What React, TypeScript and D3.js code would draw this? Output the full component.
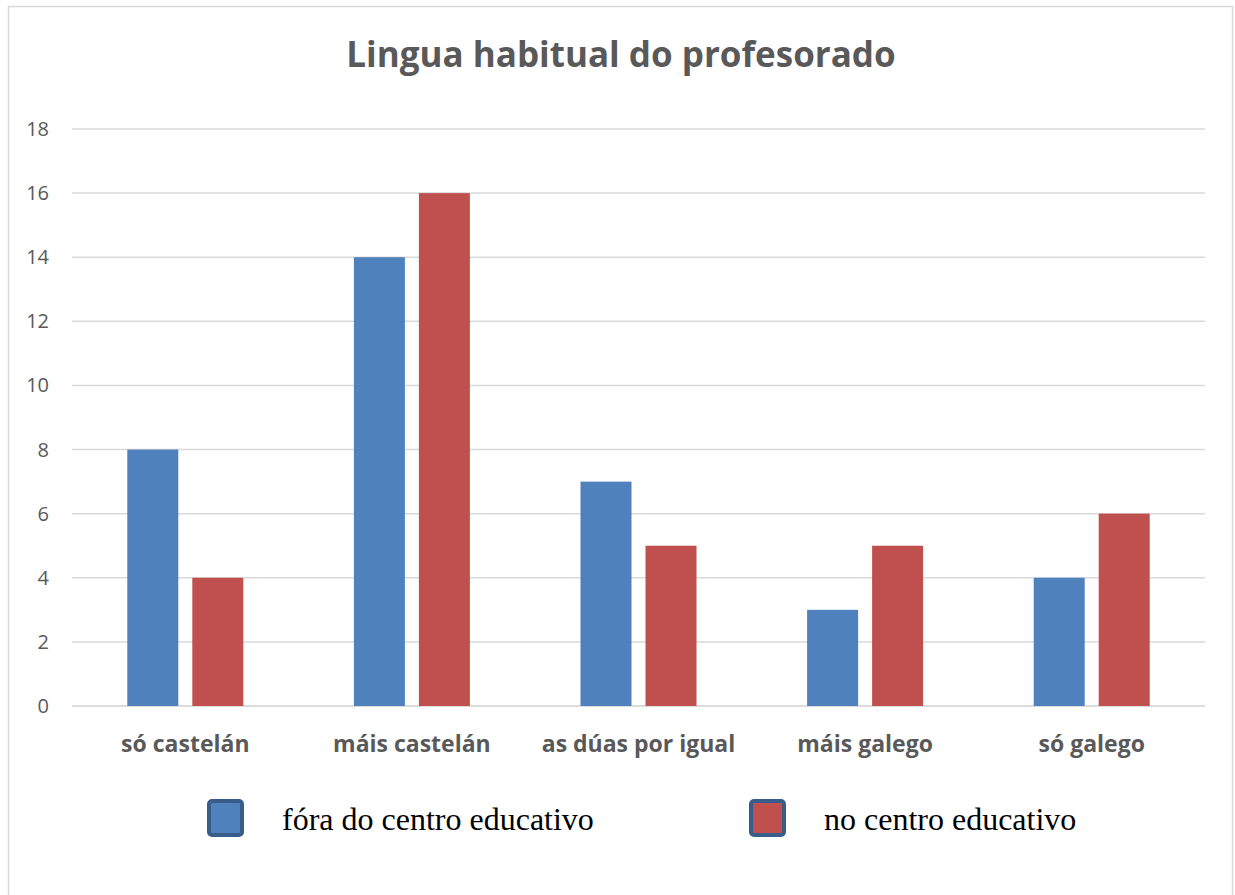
import React, { useEffect, useRef } from "react";
import * as d3 from "d3";

const categories = ["só castelán", "máis castelán", "as dúas por igual", "máis galego", "só galego"];
const seriesNames = ["fóra do centro educativo", "no centro educativo"];
const foraValues = [8, 14, 7, 3, 4];
const noCentroValues = [4, 16, 5, 5, 6];
const yTicks = [0, 2, 4, 6, 8, 10, 12, 14, 16, 18];
const colors = ["#4f81bd", "#c0504d"];

const W = 1235, H = 895;

export default function App() {
  const svgRef = useRef<SVGSVGElement>(null);

  useEffect(() => {
    const svg = d3.select(svgRef.current);
    svg.selectAll("*").remove();

    const x0 = 72, x1 = 1205;
    const yBottom = 706, yTop = 129;

    // chart border
    svg.append("rect")
      .attr("x", 8.5).attr("y", 6.5)
      .attr("width", 1224).attr("height", 900)
      .attr("fill", "#fff").attr("stroke", "#d9d9d9").attr("stroke-width", 1.5);

    const xScale = d3.scaleBand().domain(categories).range([x0, x1]);
    const yScale = d3.scaleLinear().domain([0, 18]).range([yBottom, yTop]);

    // title
    svg.append("text")
      .attr("x", 621).attr("y", 67)
      .attr("text-anchor", "middle")
      .style("font-family", "'Open Sans', sans-serif")
      .style("font-weight", "bold").style("font-size", "35px")
      .attr("fill", "#595959")
      .text("Lingua habitual do profesorado");

    // gridlines
    svg.append("g").selectAll("line")
      .data(yTicks).enter().append("line")
      .attr("x1", x0).attr("x2", x1)
      .attr("y1", d => yScale(d)).attr("y2", d => yScale(d))
      .attr("stroke", d => d === 0 ? "#d0d0d0" : "#d9d9d9")
      .attr("stroke-width", 1.5);

    // y labels
    svg.append("g").selectAll("text")
      .data(yTicks).enter().append("text")
      .attr("x", 49).attr("y", d => yScale(d) + 7)
      .attr("text-anchor", "end")
      .style("font-family", "'Open Sans', sans-serif").style("font-size", "20px")
      .attr("fill", "#595959")
      .text(d => d);

    const barW = 51, gap = 14;
    const series = [foraValues, noCentroValues];
    series.forEach((vals, si) => {
      svg.append("g").selectAll("rect")
        .data(vals).enter().append("rect")
        .attr("x", (d, i) => xScale(categories[i])! + xScale.bandwidth() / 2 - (barW + gap / 2) + si * (barW + gap))
        .attr("y", d => yScale(d))
        .attr("width", barW)
        .attr("height", d => yBottom - yScale(d))
        .attr("fill", colors[si]);
    });

    // category labels
    svg.append("g").selectAll("text")
      .data(categories).enter().append("text")
      .attr("x", d => xScale(d)! + xScale.bandwidth() / 2)
      .attr("y", 752)
      .attr("text-anchor", "middle")
      .style("font-family", "'Open Sans', sans-serif")
      .style("font-weight", "bold").style("font-size", "23px")
      .attr("fill", "#595959")
      .text(d => d);

    // legend
    const legendX = [209, 751];
    seriesNames.forEach((name, i) => {
      svg.append("rect")
        .attr("x", legendX[i]).attr("y", 801)
        .attr("width", 33).attr("height", 34)
        .attr("rx", 3)
        .attr("fill", colors[i])
        .attr("stroke", "#385d8a").attr("stroke-width", 4);
      svg.append("text")
        .attr("x", legendX[i] + 73).attr("y", 830)
        .style("font-family", "'Liberation Serif', 'Times New Roman', serif")
        .style("font-size", "32px")
        .attr("fill", "#000")
        .text(name);
    });
  }, []);

  return (
    <div style={{ position: "absolute", left: 0, top: 0 }}>
      <svg ref={svgRef} width={W} height={H} style={{ display: "block" }}></svg>
    </div>
  );
}
